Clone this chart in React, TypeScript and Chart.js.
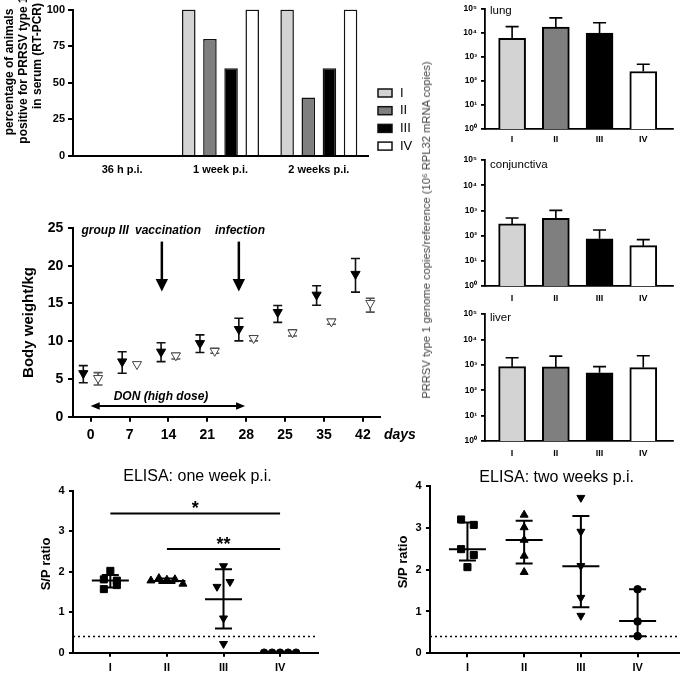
import React, { useEffect, useRef } from 'react';
import { Chart, registerables } from 'chart.js';

Chart.register(...registerables);

const FONT = '"Liberation Sans", Arial, Helvetica, sans-serif';
Chart.defaults.font.family = FONT;
Chart.defaults.color = '#000';

// ---------------- DATA ----------------
const groupLabels = ['I', 'II', 'III', 'IV'];

// Panel: % positive in serum
const serumCategories = ['36 h p.i.', '1 week p.i.', '2 weeks p.i.'];
const serumGroupI = [0, 100, 100];
const serumGroupII = [0, 80, 40];
const serumGroupIII = [0, 60, 60];
const serumGroupIV = [0, 100, 100];
const serumTitleLines = ['percentage of animals', 'positive for PRRSV type 1', 'in serum (RT-PCR)'];

// Panel: genome copies (log)
const lungMean = [6000, 18000, 10000, 250];
const lungUpper = [18600, 43000, 27000, 500];
const conjunctivaMean = [290, 480, 75, 40];
const conjunctivaUpper = [500, 1000, 166, 69];
const liverMean = [850, 830, 490, 780];
const liverUpper = [1900, 2200, 850, 2300];
const logTickValues = [1, 10, 100, 1000, 10000, 100000];
const logTickLabels = ['10⁰', '10¹', '10²', '10³', '10⁴', '10⁵'];
const logTitle = 'PRRSV type 1 genome copies/reference (10⁶ RPL32 mRNA copies)';

// Panel: body weight
const dayLabels = ['0', '7', '14', '21', '28', '25', '35', '42'];
const weightIIIMean = [5.75, 7.3, 8.6, 9.73, 11.6, 13.85, 16.15, 18.9];
const weightIIILow = [4.5, 5.75, 7.3, 8.5, 10.04, 12.5, 14.77, 16.5];
const weightIIIHigh = [6.77, 8.6, 9.8, 10.84, 13.05, 14.73, 17.35, 20.95];
const weightOtherMean = [5.1, 6.95, 8.1, 8.7, 10.4, 11.15, 12.6, 15.05];
const weightOtherLow = [4.2, 6.95, 7.65, 8.4, 10.04, 10.7, 12.25, 13.85];
const weightOtherHigh = [5.84, 6.95, 8.4, 9.07, 10.7, 11.5, 12.9, 15.7];
const weightEventLabels = ['vaccination', 'infection'];
const weightEventDays = [1.83, 3.81]; // position on the day-index axis
const donLabel = 'DON (high dose)';
const donRange = [0, 3.97];

// Panel: ELISA one week
const elisa1wI = [1.81, 1.57, 2.02, 1.78, 1.67];
const elisa1wII = [1.78, 1.84, 1.8, 1.81, 1.7];
const elisa1wIII = [1.63, 2.14, 1.75, 0.85, 0.22];
const elisa1wIV = [0, 0, 0, 0, 0];
const elisa1wCenter = [1.78, 1.77, 1.32, 0];
const elisa1wLow = [1.61, 1.72, 0.6, 0];
const elisa1wHigh = [1.92, 1.83, 2.06, 0];
const elisa1wSig = [
  { from: 0, to: 3, y: 3.44, label: '*' },
  { from: 1, to: 3, y: 2.56, label: '**' },
];

// Panel: ELISA two weeks
const elisa2wI = [3.2, 2.49, 3.07, 2.35, 2.06];
const elisa2wII = [3.31, 3.01, 2.71, 2.33, 1.94];
const elisa2wIII = [3.72, 2.91, 2.09, 1.33, 0.9];
const elisa2wIV = [1.53, 0.76, 0.41];
const elisa2wCenter = [2.49, 2.71, 2.08, 0.77];
const elisa2wLow = [2.22, 2.15, 1.1, 0.41];
const elisa2wHigh = [3.13, 3.17, 3.28, 1.53];

const elisaCutoff = 0.4;

// ---------------- STYLE ----------------
const groupFills = ['#d3d3d3', '#7f7f7f', '#000000', '#ffffff'];
const elisaShapes = ['rect', 'triangle', 'triangle', 'circle'];
const elisaRotations = [0, 0, 180, 0];
const elisaRadii = [5, 4.6, 4.6, 3.8];

function axisStyle(o: any) {
  const lw = o.lineWidth ?? 2;
  return {
    border: { display: true, color: '#000', width: lw },
    grid: {
      display: o.tick > 0,
      drawOnChartArea: false,
      drawTicks: o.tick > 0,
      tickLength: o.tick,
      color: '#000',
      lineWidth: lw,
      offset: false,
    },
    ticks: {
      color: '#000',
      padding: o.pad,
      font: { family: FONT, size: o.size, weight: 'bold' },
      maxRotation: 0,
      minRotation: 0,
      autoSkip: false,
    },
  };
}

function rotatedText(ctx: any, text: string, x: number, y: number, font: string, color = '#000') {
  ctx.save();
  ctx.translate(x, y);
  ctx.rotate(-Math.PI / 2);
  ctx.font = font;
  ctx.fillStyle = color;
  ctx.textAlign = 'center';
  ctx.textBaseline = 'middle';
  ctx.fillText(text, 0, 0);
  ctx.restore();
}

// ---------------- PANEL A: serum ----------------
const A = { w: 415, h: 180, l: 73, t: 6, r: 368, b: 156 };

const serumExtras = {
  id: 'serumExtras',
  afterDraw(chart: any) {
    const { ctx } = chart;
    ctx.save();
    groupLabels.forEach((lab, i) => {
      const yc = 93 + i * 17.7;
      ctx.fillStyle = groupFills[i];
      ctx.fillRect(378, yc - 4, 14, 8);
      ctx.strokeStyle = '#111';
      ctx.lineWidth = 1.5;
      ctx.strokeRect(378, yc - 4, 14, 8);
      ctx.fillStyle = '#000';
      ctx.font = `13px ${FONT}`;
      ctx.textAlign = 'left';
      ctx.textBaseline = 'middle';
      ctx.fillText(lab, 400, yc);
    });
    const tx = [10, 24, 38];
    const ty = [72, 70, 56];
    serumTitleLines.forEach((line, i) => rotatedText(ctx, line, tx[i], ty[i], `bold 12px ${FONT}`));
    ctx.restore();
  },
};

function buildSerum() {
  const series = [serumGroupI, serumGroupII, serumGroupIII, serumGroupIV];
  return {
    type: 'bar',
    data: {
      labels: serumCategories,
      datasets: series.map((d, i) => ({
        label: groupLabels[i],
        data: d,
        backgroundColor: groupFills[i],
        borderColor: '#111',
        borderWidth: 1.5,
        categoryPercentage: 0.86,
        barPercentage: 0.64,
      })),
    },
    options: {
      responsive: false,
      animation: false,
      devicePixelRatio: 1,
      layout: { padding: { left: 0, top: A.t, right: A.w - A.r, bottom: 0 } },
      plugins: { legend: { display: false }, tooltip: { enabled: false } },
      scales: {
        x: {
          ...axisStyle({ size: 11, pad: 7.4, tick: 0 }),
          afterFit: (s: any) => { s.height = A.h - A.b; },
        },
        y: {
          ...axisStyle({ size: 11, pad: 3, tick: 5 }),
          min: 0,
          max: 100,
          ticks: { ...axisStyle({ size: 11, pad: 3, tick: 5 }).ticks, stepSize: 25 },
          afterFit: (s: any) => { s.width = A.l; },
        },
      },
    },
    plugins: [serumExtras],
  };
}

// ---------------- PANEL B: log bars ----------------
const LOGW = 275;
const LOGL = 75;
const LOGR = 263;

function buildLog(name: string, mean: number[], upper: number[], h: number, t: number, b: number, labelPad: number, nameDy: number) {
  const plugin = {
    id: 'log_' + name,
    afterDatasetsDraw(chart: any) {
      const { ctx, scales: { y } } = chart;
      const meta = chart.getDatasetMeta(0);
      ctx.save();
      ctx.strokeStyle = '#000';
      ctx.lineWidth = 1.6;
      meta.data.forEach((el: any, i: number) => {
        const yu = y.getPixelForValue(upper[i]);
        ctx.beginPath();
        ctx.moveTo(el.x, el.y);
        ctx.lineTo(el.x, yu);
        ctx.moveTo(el.x - 6.5, yu);
        ctx.lineTo(el.x + 6.5, yu);
        ctx.stroke();
      });
      ctx.restore();
    },
    afterDraw(chart: any) {
      const { ctx, chartArea } = chart;
      ctx.save();
      ctx.font = `11.5px ${FONT}`;
      ctx.fillStyle = '#000';
      ctx.textAlign = 'left';
      ctx.textBaseline = 'middle';
      ctx.fillText(name, chartArea.left + 5, chartArea.top + nameDy);
      ctx.restore();
    },
  };
  const st = axisStyle({ size: 8.5, pad: 4, tick: 4, lineWidth: 1.8 });
  return {
    type: 'bar',
    data: {
      datasets: [
        {
          data: mean.map((v, i) => ({ x: i, y: v })),
          backgroundColor: groupFills,
          borderColor: '#000',
          borderWidth: 2,
          borderSkipped: 'start',
          barThickness: 27,
        },
      ],
    },
    options: {
      responsive: false,
      animation: false,
      devicePixelRatio: 1,
      layout: { padding: { left: 0, top: t, right: LOGW - LOGR, bottom: 0 } },
      plugins: { legend: { display: false }, tooltip: { enabled: false } },
      scales: {
        x: {
          type: 'linear',
          offset: false,
          min: -0.62,
          max: 3.68,
          ...axisStyle({ size: 9, pad: labelPad, tick: 0, lineWidth: 1.8 }),
          afterBuildTicks: (s: any) => { s.ticks = groupLabels.map((_, i) => ({ value: i })); },
          ticks: {
            ...axisStyle({ size: 9, pad: labelPad, tick: 0 }).ticks,
            callback: (_v: any, i: number) => groupLabels[i],
          },
          afterFit: (s: any) => { s.height = h - b; },
        },
        y: {
          type: 'logarithmic',
          min: 1,
          max: 100000,
          ...st,
          afterBuildTicks: (s: any) => { s.ticks = logTickValues.map((v) => ({ value: v })); },
          ticks: {
            ...st.ticks,
            callback: (v: any) => logTickLabels[Math.round(Math.log10(v))],
          },
          afterFit: (s: any) => { s.width = LOGL; },
        },
      },
    },
    plugins: [plugin],
  };
}

const buildLung = () => buildLog('lung', lungMean, lungUpper, 150, 6, 129, 5.6, 1.8);
const buildConj = () => buildLog('conjunctiva', conjunctivaMean, conjunctivaUpper, 155, 10, 136, 7, 5);
const buildLiver = () => buildLog('liver', liverMean, liverUpper, 160, 9, 136, 7.6, 4);

// ---------------- PANEL C: body weight ----------------
const C = { w: 415, h: 270, l: 73, t: 48, r: 380, b: 236.7 };
const WEIGHT_SHIFT = 0.19;

const weightExtras = {
  id: 'weightExtras',
  beforeDatasetsDraw(chart: any) {
    const { ctx, scales: { x, y } } = chart;
    const sets = [
      { low: weightIIILow, high: weightIIIHigh, shift: -WEIGHT_SHIFT, color: '#111' },
      { low: weightOtherLow, high: weightOtherHigh, shift: WEIGHT_SHIFT, color: '#555' },
    ];
    ctx.save();
    ctx.lineWidth = 1.6;
    sets.forEach((s) => {
      ctx.strokeStyle = s.color;
      s.low.forEach((lo, i) => {
        if (s.high[i] - lo < 0.05) return;
        const px = x.getPixelForValue(i + s.shift);
        const yl = y.getPixelForValue(lo);
        const yh = y.getPixelForValue(s.high[i]);
        ctx.beginPath();
        ctx.moveTo(px, yl);
        ctx.lineTo(px, yh);
        ctx.moveTo(px - 4.5, yl);
        ctx.lineTo(px + 4.5, yl);
        ctx.moveTo(px - 4.5, yh);
        ctx.lineTo(px + 4.5, yh);
        ctx.stroke();
      });
    });
    ctx.restore();
  },
  afterDraw(chart: any) {
    const { ctx, scales: { x, y } } = chart;
    ctx.save();
    ctx.fillStyle = '#000';
    ctx.strokeStyle = '#000';
    ctx.font = `italic bold 12px ${FONT}`;
    ctx.textAlign = 'left';
    ctx.textBaseline = 'middle';
    ctx.fillText('group III', 81.5, 50.7);
    ctx.fillText(weightEventLabels[0], 135, 50.7);
    ctx.fillText(weightEventLabels[1], 215, 50.7);
    // arrows
    weightEventDays.forEach((d) => {
      const px = x.getPixelForValue(d);
      const yTop = y.getPixelForValue(23.2);
      const yTip = y.getPixelForValue(16.6);
      ctx.lineWidth = 2.5;
      ctx.beginPath();
      ctx.moveTo(px, yTop);
      ctx.lineTo(px, yTip - 12);
      ctx.stroke();
      ctx.beginPath();
      ctx.moveTo(px - 6.2, yTip - 12.5);
      ctx.lineTo(px + 6.2, yTip - 12.5);
      ctx.lineTo(px, yTip);
      ctx.closePath();
      ctx.fill();
    });
    // DON double arrow
    const x0 = x.getPixelForValue(donRange[0]);
    const x1 = x.getPixelForValue(donRange[1]);
    const yd = y.getPixelForValue(1.42);
    ctx.lineWidth = 2;
    ctx.beginPath();
    ctx.moveTo(x0 + 6, yd);
    ctx.lineTo(x1 - 6, yd);
    ctx.stroke();
    ctx.beginPath();
    ctx.moveTo(x0, yd);
    ctx.lineTo(x0 + 9, yd - 3.8);
    ctx.lineTo(x0 + 9, yd + 3.8);
    ctx.closePath();
    ctx.fill();
    ctx.beginPath();
    ctx.moveTo(x1, yd);
    ctx.lineTo(x1 - 9, yd - 3.8);
    ctx.lineTo(x1 - 9, yd + 3.8);
    ctx.closePath();
    ctx.fill();
    ctx.textAlign = 'center';
    ctx.fillText(donLabel, 161, 216.7);
    // days
    ctx.font = `italic bold 14px ${FONT}`;
    ctx.textAlign = 'left';
    ctx.fillText('days', 384, 255);
    ctx.restore();
    rotatedText(ctx, 'Body weight/kg', 29, 142.5, `bold 15px ${FONT}`);
  },
};

function buildWeight() {
  const st = axisStyle({ size: 14, pad: 4.7, tick: 5 });
  const sx = axisStyle({ size: 14, pad: 4.9, tick: 5 });
  return {
    type: 'scatter',
    data: {
      datasets: [
        {
          label: 'group III',
          data: weightIIIMean.map((v, i) => ({ x: i - WEIGHT_SHIFT, y: v })),
          pointStyle: 'triangle',
          pointRotation: 180,
          pointRadius: 5.3,
          pointBackgroundColor: '#000',
          pointBorderColor: '#000',
          pointBorderWidth: 1,
        },
        {
          label: 'other',
          data: weightOtherMean.map((v, i) => ({ x: i + WEIGHT_SHIFT, y: v })),
          pointStyle: 'triangle',
          pointRotation: 180,
          pointRadius: 5.3,
          pointBackgroundColor: '#fff',
          pointBorderColor: '#444',
          pointBorderWidth: 1,
        },
      ],
    },
    options: {
      responsive: false,
      animation: false,
      devicePixelRatio: 1,
      layout: { padding: { left: 0, top: C.t, right: C.w - C.r, bottom: 0 } },
      plugins: { legend: { display: false }, tooltip: { enabled: false } },
      scales: {
        x: {
          type: 'linear',
          min: -0.455,
          max: 7.44,
          ...sx,
          afterBuildTicks: (s: any) => { s.ticks = dayLabels.map((_, i) => ({ value: i })); },
          ticks: { ...sx.ticks, callback: (_v: any, i: number) => dayLabels[i] },
          afterFit: (s: any) => { s.height = C.h - C.b; },
        },
        y: {
          min: 0,
          max: 25,
          ...st,
          ticks: { ...st.ticks, stepSize: 5 },
          afterFit: (s: any) => { s.width = C.l; },
        },
      },
    },
    plugins: [weightExtras],
  };
}

// ---------------- PANELS D/E: ELISA ----------------
const ROW_H = 7;
const STEP_MAX = 13;
const SPREAD_MAX = 32;

function swarm(values: number[], g: number, pxY: number, pxX: number) {
  const order = values.map((_, i) => i).sort((a, b) => values[a] - values[b]);
  const rows: number[][] = [];
  let cur: number[] = [];
  let start = 0;
  order.forEach((i) => {
    if (cur.length && (values[i] - start) * pxY < ROW_H) cur.push(i);
    else {
      if (cur.length) rows.push(cur);
      cur = [i];
      start = values[i];
    }
  });
  if (cur.length) rows.push(cur);
  const xs: number[] = new Array(values.length).fill(g);
  rows.forEach((row) => {
    row.sort((a, b) => a - b);
    const n = row.length;
    const d = n > 1 ? Math.min(STEP_MAX, SPREAD_MAX / (n - 1)) : 0;
    row.forEach((idx, k) => { xs[idx] = g + ((k - (n - 1) / 2) * d) / pxX; });
  });
  return values.map((v, i) => ({ x: xs[i], y: v }));
}

function buildElisa(p: any) {
  const pxY = (p.b - p.t) / 4;
  const pxX = (p.r - p.l) / (p.xmax - p.xmin);
  const plugin = {
    id: 'elisa_' + p.key,
    beforeDatasetsDraw(chart: any) {
      const { ctx, chartArea, scales: { y } } = chart;
      const yy = y.getPixelForValue(elisaCutoff);
      ctx.save();
      ctx.setLineDash([2, 3]);
      ctx.lineWidth = 1.5;
      ctx.strokeStyle = '#000';
      ctx.beginPath();
      ctx.moveTo(chartArea.left, yy);
      ctx.lineTo(chartArea.right, yy);
      ctx.stroke();
      ctx.restore();
    },
    afterDatasetsDraw(chart: any) {
      const { ctx, scales: { x, y } } = chart;
      ctx.save();
      ctx.strokeStyle = '#000';
      ctx.lineWidth = 2;
      p.center.forEach((c: number, g: number) => {
        const cx = x.getPixelForValue(g);
        const yc = y.getPixelForValue(c);
        const yl = y.getPixelForValue(p.low[g]);
        const yh = y.getPixelForValue(p.high[g]);
        ctx.beginPath();
        ctx.moveTo(cx - 18.5, yc);
        ctx.lineTo(cx + 18.5, yc);
        ctx.moveTo(cx, yl);
        ctx.lineTo(cx, yh);
        ctx.moveTo(cx - 8.5, yl);
        ctx.lineTo(cx + 8.5, yl);
        ctx.moveTo(cx - 8.5, yh);
        ctx.lineTo(cx + 8.5, yh);
        ctx.stroke();
      });
      (p.sig || []).forEach((s: any) => {
        const xa = x.getPixelForValue(s.from);
        const xb = x.getPixelForValue(s.to);
        const ys = y.getPixelForValue(s.y);
        ctx.beginPath();
        ctx.moveTo(xa, ys);
        ctx.lineTo(xb, ys);
        ctx.stroke();
        ctx.fillStyle = '#000';
        ctx.font = `bold 18px ${FONT}`;
        ctx.textAlign = 'center';
        ctx.textBaseline = 'alphabetic';
        ctx.fillText(s.label, (xa + xb) / 2, ys + 1);
      });
      ctx.restore();
    },
    afterDraw(chart: any) {
      const { ctx } = chart;
      ctx.save();
      ctx.fillStyle = '#000';
      ctx.font = `16px ${FONT}`;
      ctx.textAlign = 'center';
      ctx.textBaseline = 'middle';
      ctx.fillText(p.title, p.titleX, p.titleY);
      ctx.restore();
      rotatedText(ctx, 'S/P ratio', p.yTitleX, p.yTitleY, `bold 13px ${FONT}`);
    },
  };
  const sy = axisStyle({ size: 11, pad: 4.4, tick: 4 });
  const sx = axisStyle({ size: 11, pad: p.xpad, tick: 4 });
  return {
    type: 'scatter',
    data: {
      datasets: p.groups.map((vals: number[], g: number) => ({
        label: groupLabels[g],
        data: swarm(vals, g, pxY, pxX),
        pointStyle: elisaShapes[g],
        pointRotation: elisaRotations[g],
        pointRadius: elisaRadii[g],
        pointBackgroundColor: '#000',
        pointBorderColor: '#000',
        pointBorderWidth: 1,
      })),
    },
    options: {
      responsive: false,
      animation: false,
      devicePixelRatio: 1,
      layout: { padding: { left: 0, top: p.t, right: p.w - p.r, bottom: 0 } },
      plugins: { legend: { display: false }, tooltip: { enabled: false } },
      scales: {
        x: {
          type: 'linear',
          min: p.xmin,
          max: p.xmax,
          ...sx,
          afterBuildTicks: (s: any) => { s.ticks = groupLabels.map((_, i) => ({ value: i })); },
          ticks: { ...sx.ticks, callback: (_v: any, i: number) => groupLabels[i] },
          afterFit: (s: any) => { s.height = p.h - p.b; },
        },
        y: {
          min: 0,
          max: 4,
          ...sy,
          ticks: { ...sy.ticks, stepSize: 1 },
          afterFit: (s: any) => { s.width = p.l; },
        },
      },
    },
    plugins: [plugin],
  };
}

const D = { key: '1w', w: 340, h: 225, l: 73, t: 40.7, r: 318, b: 202.7, xmin: -0.66, xmax: 3.67, xpad: 4.7 };
const E = { key: '2w', w: 345, h: 225, l: 90, t: 36, r: 345, b: 203.3, xmin: -0.66, xmax: 3.73, xpad: 4.2 };

const buildElisa1w = () =>
  buildElisa({
    ...D,
    groups: [elisa1wI, elisa1wII, elisa1wIII, elisa1wIV],
    center: elisa1wCenter,
    low: elisa1wLow,
    high: elisa1wHigh,
    sig: elisa1wSig,
    title: 'ELISA: one week p.i.',
    titleX: 197.5,
    titleY: 27,
    yTitleX: 46.7,
    yTitleY: 114,
  });

const buildElisa2w = () =>
  buildElisa({
    ...E,
    groups: [elisa2wI, elisa2wII, elisa2wIII, elisa2wIV],
    center: elisa2wCenter,
    low: elisa2wLow,
    high: elisa2wHigh,
    sig: [],
    title: 'ELISA: two weeks p.i.',
    titleX: 216.7,
    titleY: 28,
    yTitleX: 63.3,
    yTitleY: 112,
  });

// ---------------- COMPONENTS ----------------
function ChartCanvas({ left, top, width, height, build }: any) {
  const ref = useRef<HTMLCanvasElement>(null);
  useEffect(() => {
    if (!ref.current) return;
    const chart = new Chart(ref.current, build());
    return () => chart.destroy();
  }, [build]);
  return (
    <canvas
      ref={ref}
      width={width}
      height={height}
      style={{ position: 'absolute', left, top, width, height, display: 'block' }}
    />
  );
}

export default function App() {
  return (
    <div
      style={{
        position: 'absolute',
        left: 0,
        top: 0,
        width: 685,
        height: 675,
        background: '#fff',
        overflow: 'hidden',
        fontFamily: FONT,
      }}
    >
      <ChartCanvas left={0} top={0} width={A.w} height={A.h} build={buildSerum} />
      <ChartCanvas left={0} top={180} width={C.w} height={C.h} build={buildWeight} />
      <ChartCanvas left={410} top={0} width={LOGW} height={150} build={buildLung} />
      <ChartCanvas left={410} top={150} width={LOGW} height={155} build={buildConj} />
      <ChartCanvas left={410} top={305} width={LOGW} height={160} build={buildLiver} />
      <div
        style={{
          position: 'absolute',
          left: 426,
          top: 230,
          transform: 'translate(-50%, -50%) rotate(-90deg)',
          whiteSpace: 'nowrap',
          fontSize: 11.2,
          lineHeight: '14px',
          color: '#444',
        }}
      >
        {logTitle}
      </div>
      <ChartCanvas left={0} top={450} width={D.w} height={D.h} build={buildElisa1w} />
      <ChartCanvas left={340} top={450} width={E.w} height={E.h} build={buildElisa2w} />
    </div>
  );
}
